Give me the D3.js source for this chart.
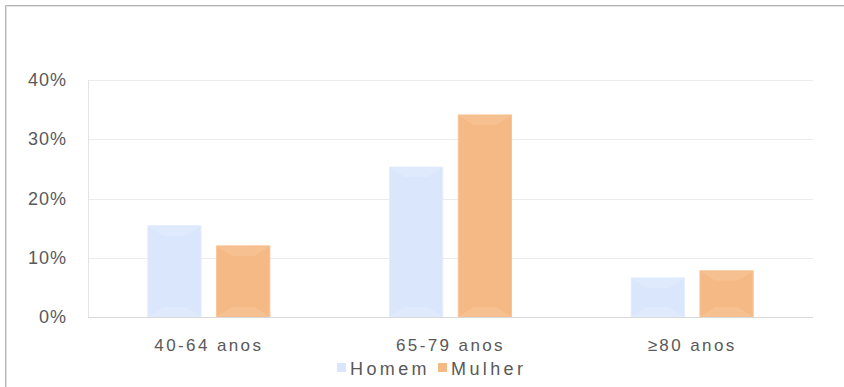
<!DOCTYPE html>
<html>
<head>
<meta charset="utf-8">
<script src="https://cdn.jsdelivr.net/npm/d3@7"></script>
<style>
  body { margin: 0; background: #fff; }
  svg text { font-family: "Liberation Sans", Arial, sans-serif; }
</style>
</head>
<body>
<script>
var categories = ["40-64 anos", "65-79 anos", "\u226580 anos"];
var seriesNames = ["Homem", "Mulher"];
var homem = [0.154, 0.253, 0.066];
var mulher = [0.120, 0.341, 0.078];
var yTicks = [0, 0.1, 0.2, 0.3, 0.4];

var w = 844;
var h = 387;
var colors = { Homem: "#d9e6fc", Mulher: "#f5b985" };
var light = { Homem: "#e4edfd", Mulher: "#f8c497" };

var plotLeft = 88, plotRight = 813, plotTop = 80, plotBottom = 317;

var svg = d3.select("body")
    .append("svg")
    .attr("width", w)
    .attr("height", h);

// outer frame (only top and left edges are visible)
svg.append("path")
   .attr("d", "M5.5," + h + "V5.5H" + w)
   .attr("fill", "none")
   .attr("stroke", "#b4b4b4");
svg.append("path")
   .attr("d", "M6.5," + h + "V6.5H" + w)
   .attr("fill", "none")
   .attr("stroke", "#e2e2e2");

var y = d3.scaleLinear()
    .domain([0, 0.4])
    .range([plotBottom, plotTop]);

var x0 = d3.scaleBand()
    .domain(categories)
    .range([plotLeft, plotRight])
    .paddingInner(0.495)
    .paddingOuter(0.2475);

var x1 = d3.scaleBand()
    .domain(seriesNames)
    .range([0, x0.bandwidth()])
    .paddingInner(0.226);

// gridlines
svg.append("g")
   .selectAll("line")
   .data(yTicks.slice(1))
   .enter()
   .append("line")
   .attr("x1", plotLeft)
   .attr("x2", plotRight)
   .attr("y1", function(d) { return Math.round(y(d)) + 0.5; })
   .attr("y2", function(d) { return Math.round(y(d)) + 0.5; })
   .attr("stroke", "#ececec");

svg.append("line")
   .attr("x1", plotLeft + 0.5)
   .attr("x2", plotLeft + 0.5)
   .attr("y1", plotTop)
   .attr("y2", plotBottom)
   .attr("stroke", "#e4e4e4");

// y labels
svg.append("g")
   .selectAll("text")
   .data(yTicks)
   .enter()
   .append("text")
   .text(function(d) { return d3.format(".0%")(d); })
   .attr("x", 67)
   .attr("y", function(d) { return y(d) + 6; })
   .attr("text-anchor", "end")
   .attr("font-size", "18px")
   .attr("letter-spacing", "1px")
   .attr("fill", "#595959");

var rows = [];
categories.forEach(function(c, i) {
    rows.push({ cat: c, s: "Homem", v: homem[i] });
    rows.push({ cat: c, s: "Mulher", v: mulher[i] });
});

var bars = svg.append("g")
   .selectAll("g")
   .data(rows)
   .enter()
   .append("g")
   .attr("transform", function(d) {
        return "translate(" + (x0(d.cat) + x1(d.s)) + "," + y(d.v) + ")";
   });

var bw = x1.bandwidth();
bars.append("rect")
   .attr("width", bw)
   .attr("height", function(d) { return plotBottom - y(d.v); })
   .attr("fill", function(d) { return colors[d.s]; })
   .attr("stroke", function(d) { return light[d.s]; })
   .attr("stroke-width", 1);

// bevel highlights top and bottom
bars.append("path")
   .attr("d", function(d) {
        var hh = plotBottom - y(d.v), b = Math.min(9, hh / 3);
        return "M1,1H" + (bw - 1) + "L" + (bw - 1 - b * 1.6) + "," + (1 + b) + "H" + (1 + b * 1.6) + "Z";
   })
   .attr("fill", function(d) { return light[d.s]; })
   .attr("opacity", 0.6);
bars.append("path")
   .attr("d", function(d) {
        var hh = plotBottom - y(d.v), b = Math.min(9, hh / 3);
        return "M1," + (hh - 1) + "H" + (bw - 1) + "L" + (bw - 1 - b * 1.6) + "," + (hh - 1 - b) + "H" + (1 + b * 1.6) + "Z";
   })
   .attr("fill", function(d) { return light[d.s]; })
   .attr("opacity", 0.6);

// baseline
svg.append("line")
   .attr("x1", plotLeft)
   .attr("x2", plotRight)
   .attr("y1", plotBottom + 0.5)
   .attr("y2", plotBottom + 0.5)
   .attr("stroke", "#d9d9d9");

// category labels
svg.append("g")
   .selectAll("text")
   .data(categories)
   .enter()
   .append("text")
   .text(function(d) { return d; })
   .attr("x", function(d) { return x0(d) + x0.bandwidth() / 2; })
   .attr("y", 351)
   .attr("text-anchor", "middle")
   .attr("font-size", "17px")
   .attr("letter-spacing", "2.4px")
   .attr("fill", "#595959");

// legend
var legendX = [337, 438];
var legend = svg.append("g")
   .selectAll("g")
   .data(seriesNames)
   .enter()
   .append("g")
   .attr("transform", function(d, i) { return "translate(" + legendX[i] + ",363)"; });

legend.append("rect")
   .attr("width", 9)
   .attr("height", 9)
   .attr("fill", function(d) { return colors[d]; });

legend.append("text")
   .text(function(d) { return d; })
   .attr("x", 13)
   .attr("y", 12)
   .attr("font-size", "18px")
   .attr("letter-spacing", "3.4px")
   .attr("fill", "#595959");
</script>
</body>
</html>
